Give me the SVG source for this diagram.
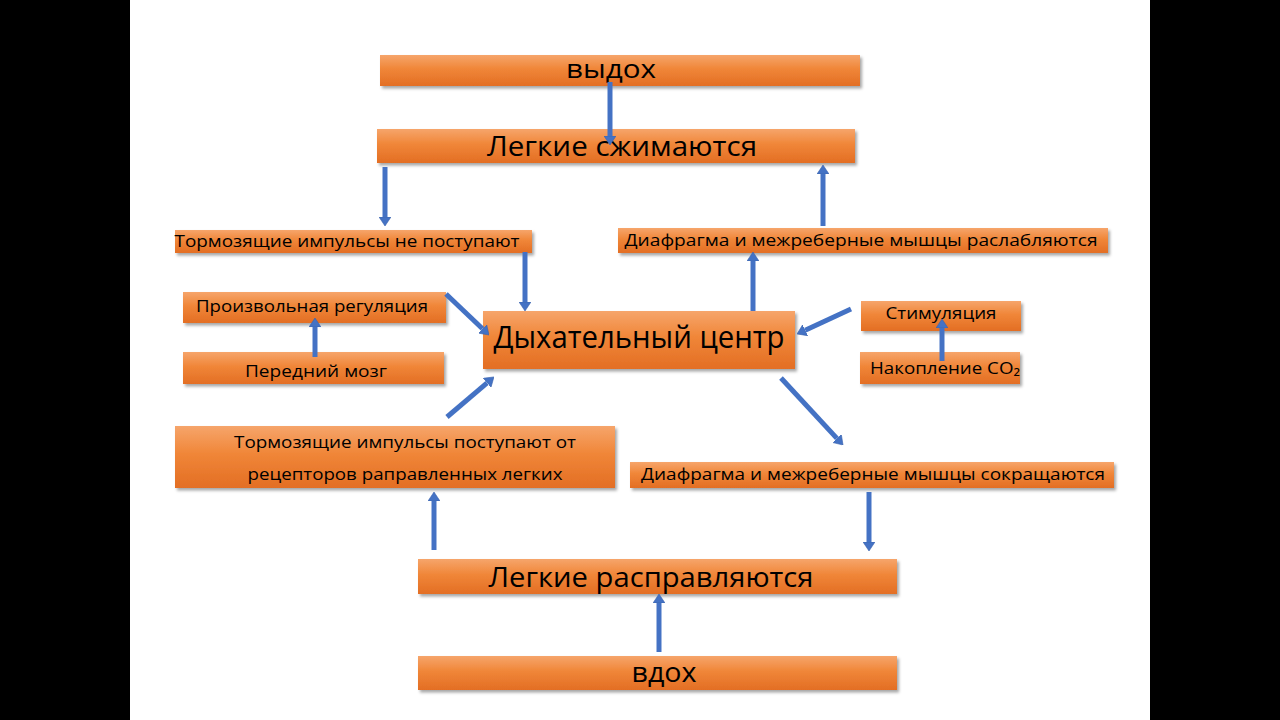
<svg xmlns="http://www.w3.org/2000/svg" width="1280" height="720" viewBox="0 0 1280 720">
<style>
.box{fill:url(#og);filter:url(#sh)}
text{font-family:"Open Sans","Noto Sans","DejaVu Sans",sans-serif;fill:#000;text-anchor:middle}
.s{font-size:17px}
.arr{stroke:#4472C4;stroke-width:5;fill:none;marker-end:url(#ah)}
</style>
<defs>
<linearGradient id="og" x1="0" y1="0" x2="0" y2="1">
<stop offset="0" stop-color="#F6A56B"/>
<stop offset="0.45" stop-color="#F08638"/>
<stop offset="1" stop-color="#E36E24"/>
</linearGradient>
<filter id="sh" x="-5%" y="-20%" width="110%" height="150%">
<feDropShadow dx="2" dy="2.5" stdDeviation="1.5" flood-color="#000" flood-opacity="0.35"/>
</filter>
<marker id="ah" viewBox="0 -6 9 12" refX="0" refY="0" markerWidth="9" markerHeight="12" markerUnits="userSpaceOnUse" orient="auto">
<path d="M0,-6 L9,0 L0,6 z" fill="#4472C4" stroke="#3A63AD" stroke-width="0.6"/>
</marker>
</defs>
<rect x="0" y="0" width="1280" height="720" fill="#fff"/>
<rect x="0" y="0" width="130" height="720" fill="#000"/>
<rect x="1150" y="0" width="130" height="720" fill="#000"/>

<g id="n-vydoh"><rect class="box" x="380" y="55" width="480" height="31"/><text x="611" y="78" font-size="26" textLength="90" lengthAdjust="spacingAndGlyphs">выдох</text></g>
<g id="n-szhim"><rect class="box" x="377" y="129" width="478" height="34"/><text x="622" y="156" font-size="27" textLength="270" lengthAdjust="spacingAndGlyphs">Легкие сжимаются</text></g>
<g id="n-tormne"><rect class="box" x="175" y="230" width="357" height="23"/><text class="s" x="347" y="247" textLength="345" lengthAdjust="spacingAndGlyphs">Тормозящие импульсы не поступают</text></g>
<g id="n-rasl"><rect class="box" x="618" y="228" width="490" height="25"/><text class="s" x="861" y="246" textLength="473" lengthAdjust="spacingAndGlyphs">Диафрагма и межреберные мышцы раслабляются</text></g>
<g id="n-proizv"><rect class="box" x="183" y="292" width="263" height="31"/><text class="s" x="312" y="312" textLength="232" lengthAdjust="spacingAndGlyphs">Произвольная регуляция</text></g>
<g id="n-pered"><rect class="box" x="183" y="352" width="261" height="32"/><text class="s" x="316" y="377" textLength="142" lengthAdjust="spacingAndGlyphs">Передний мозг</text></g>
<g id="n-center"><rect class="box" x="483" y="311" width="312" height="58"/><text x="639" y="348" font-size="31" textLength="291" lengthAdjust="spacingAndGlyphs">Дыхательный центр</text></g>
<g id="n-stim"><rect class="box" x="861" y="301" width="160" height="30"/><text class="s" x="941" y="319" textLength="111" lengthAdjust="spacingAndGlyphs">Стимуляция</text></g>
<g id="n-co2"><rect class="box" x="860" y="352" width="160" height="32"/><text class="s" x="945" y="374" textLength="150" lengthAdjust="spacingAndGlyphs">Накопление CO₂</text></g>
<g id="n-tormpost"><rect class="box" x="175" y="426" width="440" height="62"/><text class="s" x="405" y="448" textLength="342" lengthAdjust="spacingAndGlyphs">Тормозящие импульсы поступают от</text><text class="s" x="405" y="480" textLength="315" lengthAdjust="spacingAndGlyphs">рецепторов раправленных легких</text></g>
<g id="n-sokr"><rect class="box" x="630" y="462" width="484" height="26"/><text class="s" x="873" y="480" textLength="464" lengthAdjust="spacingAndGlyphs">Диафрагма и межреберные мышцы сокращаются</text></g>
<g id="n-raspr"><rect class="box" x="418" y="559" width="479" height="35"/><text x="651" y="587" font-size="28" textLength="325" lengthAdjust="spacingAndGlyphs">Легкие расправляются</text></g>
<g id="n-vdoh"><rect class="box" x="418" y="656" width="479" height="34"/><text x="664" y="682" font-size="27" textLength="65" lengthAdjust="spacingAndGlyphs">вдох</text></g>

<g id="connectors">
<path class="arr" d="M610,82 L610,136"/>
<path class="arr" d="M385,167 L385,217"/>
<path class="arr" d="M823,226 L823,174"/>
<path class="arr" d="M525,252 L525,302"/>
<path class="arr" d="M753,311 L753,261"/>
<path class="arr" d="M446,294 L482.5,328.8"/>
<path class="arr" d="M315,357 L315,327"/>
<path class="arr" d="M851,309 L805.2,330.2"/>
<path class="arr" d="M942,361 L942,328"/>
<path class="arr" d="M447,417 L487.1,382.8"/>
<path class="arr" d="M781,378 L836.9,438.4"/>
<path class="arr" d="M869,492 L869,542"/>
<path class="arr" d="M434,550 L434,501"/>
<path class="arr" d="M659,652 L659,603"/>
</g>
</svg>
